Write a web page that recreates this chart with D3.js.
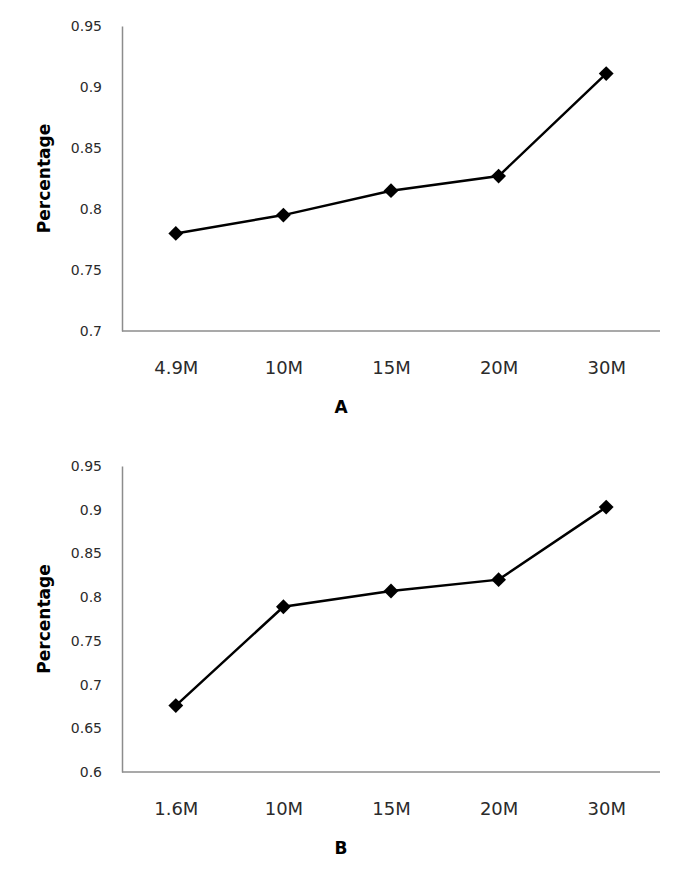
<!DOCTYPE html>
<html>
<head>
<meta charset="utf-8">
<script src="https://cdn.jsdelivr.net/npm/d3@7"></script>
<style>
  body { margin: 0; background: #fff; }
  svg { display: block; }
</style>
</head>
<body>
<div id="chart"></div>
<script>
// panel A
const categoriesA = ['4.9M', '10M', '15M', '20M', '30M'];
const valuesA = [0.780, 0.795, 0.815, 0.827, 0.911];
const ticksA = [0.7, 0.75, 0.8, 0.85, 0.9, 0.95];

// panel B
const categoriesB = ['1.6M', '10M', '15M', '20M', '30M'];
const valuesB = [0.676, 0.789, 0.807, 0.820, 0.903];
const ticksB = [0.6, 0.65, 0.7, 0.75, 0.8, 0.85, 0.9, 0.95];

const width = 685, height = 869;
var svg = d3.select('#chart')
    .append('svg')
    .attr('width', width)
    .attr('height', height);

drawPanel(categoriesA, valuesA, ticksA, 26, 331, 'A', 407);
drawPanel(categoriesB, valuesB, ticksB, 466, 772, 'B', 848);

function drawPanel(cats, vals, ticks, top, bottom, name, nameY){
    var left = 122, right = 660;
    var x = d3.scalePoint().domain(cats).range([left, right]).padding(0.5);
    var y = d3.scaleLinear().domain(d3.extent(ticks)).range([bottom, top]);
    var g = svg.append('g');

    var yAxis = g.append('g')
        .attr('transform', 'translate(' + left + ',0)')
        .call(d3.axisLeft(y).tickValues(ticks).tickSize(0).tickPadding(20)
            .tickFormat(function(d){ return String(+d.toFixed(2)); }));
    yAxis.selectAll('text')
        .attr('font-family', 'DejaVu Sans')
        .attr('font-size', 14)
        .attr('fill', '#2b2b2b');

    var xAxis = g.append('g')
        .attr('transform', 'translate(0,' + bottom + ')')
        .call(d3.axisBottom(x).tickSize(0).tickPadding(30));
    xAxis.selectAll('text')
        .attr('font-family', 'DejaVu Sans')
        .attr('font-size', 18)
        .attr('fill', '#2b2b2b');

    // excel style axis lines
    g.selectAll('.domain')
        .attr('stroke', '#8c8c8c')
        .attr('stroke-width', 1.5);
    xAxis.select('.domain').attr('d', 'M' + left + ',0H' + right);

    var line = d3.line()
        .x(function(d, i){ return x(cats[i]); })
        .y(function(d){ return y(d); });
    g.append('path')
        .datum(vals)
        .attr('d', line)
        .attr('fill', 'none')
        .attr('stroke', '#000')
        .attr('stroke-width', 2.5);

    var diamond = d3.symbol().type(d3.symbolSquare).size(110);
    g.selectAll('path.pt')
        .data(vals)
        .enter()
        .append('path')
        .attr('class', 'pt')
        .attr('d', diamond)
        .attr('fill', '#000')
        .attr('transform', function(d, i){
            return 'translate(' + x(cats[i]) + ',' + y(d) + ') rotate(45)';
        });

    g.append('text')
        .attr('transform', 'translate(50,' + (top + bottom) / 2 + ') rotate(-90)')
        .attr('text-anchor', 'middle')
        .attr('font-family', 'DejaVu Sans')
        .attr('font-weight', 'bold')
        .attr('font-size', 17)
        .attr('fill', '#000')
        .text('Percentage');

    g.append('text')
        .attr('x', 341)
        .attr('y', nameY)
        .attr('dy', '0.35em')
        .attr('text-anchor', 'middle')
        .attr('font-family', 'DejaVu Sans')
        .attr('font-weight', 'bold')
        .attr('font-size', 17)
        .attr('fill', '#000')
        .text(name);
}
</script>
</body>
</html>
